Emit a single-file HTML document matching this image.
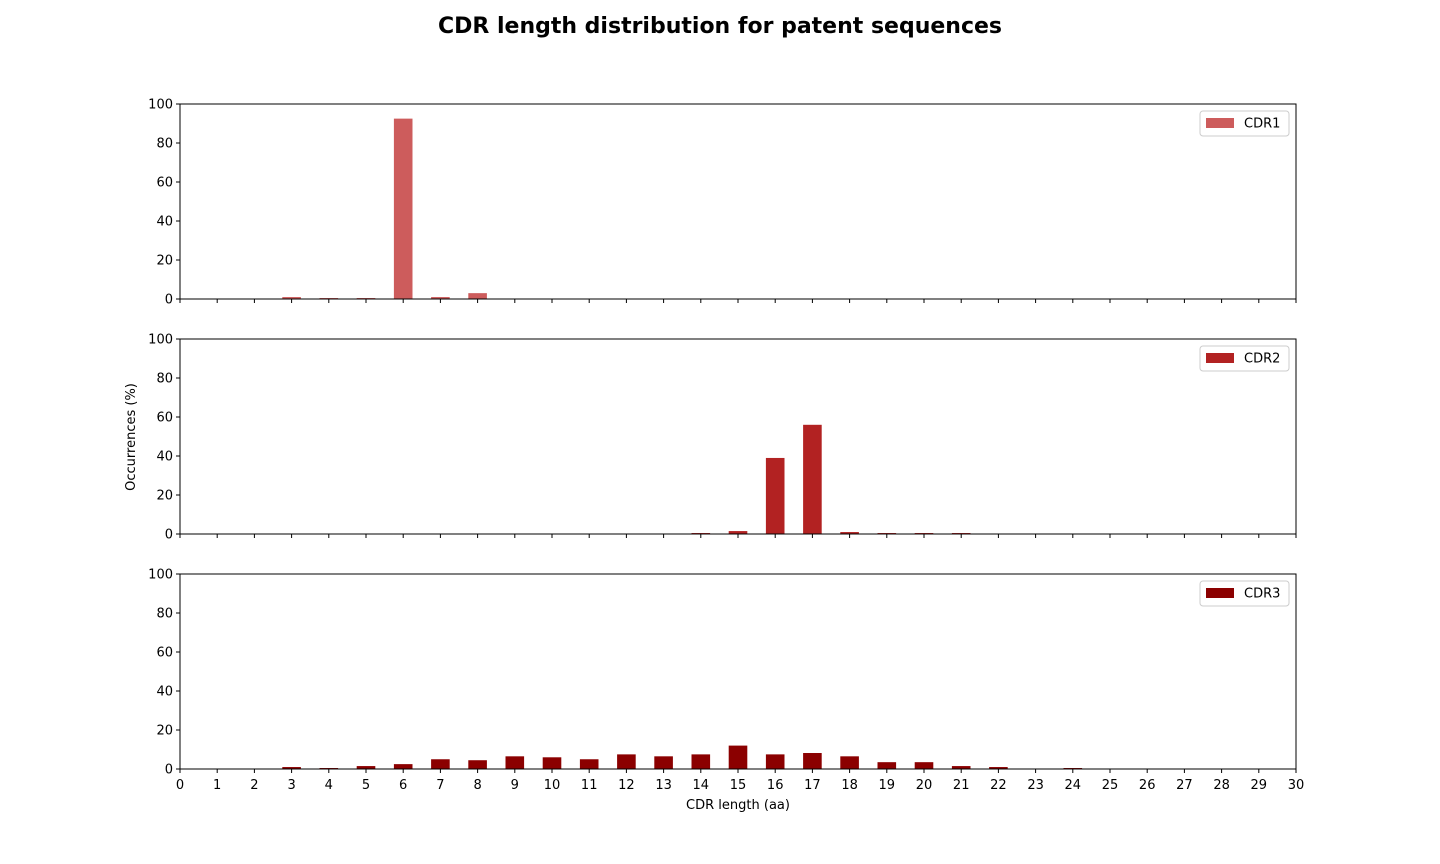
<!DOCTYPE html>
<html><head><meta charset="utf-8"><style>
html,body{margin:0;padding:0;background:#fff;overflow:hidden;font-family:"Liberation Sans","DejaVu Sans",sans-serif;}
svg{display:block;}
svg text{font-family:"DejaVu Sans","Liberation Sans",sans-serif;}
</style></head><body>
<svg id="chart" width="1440" height="864" xmlns="http://www.w3.org/2000/svg">
<text x="720" y="33" text-anchor="middle" font-size="22" font-weight="bold">CDR length distribution for patent sequences</text>
<text transform="translate(135,437) rotate(-90)" text-anchor="middle" font-size="13">Occurrences (%)</text>
<text x="738" y="809" text-anchor="middle" font-size="13">CDR length (aa)</text>
</svg>
<script>
const lengths = [0,1,2,3,4,5,6,7,8,9,10,11,12,13,14,15,16,17,18,19,20,21,22,23,24,25,26,27,28,29];
const cdr1 = [0,0,0,1,0.5,0.5,92.5,1,3,0,0,0,0,0,0,0,0,0,0,0,0,0,0,0,0,0,0,0,0,0];
const cdr2 = [0,0,0,0,0,0,0,0,0,0,0,0,0,0,0.5,1.5,39,56,1,0.5,0.5,0.5,0,0,0,0,0,0,0,0];
const cdr3 = [0,0,0,1,0.5,1.5,2.5,5,4.5,6.5,6,5,7.5,6.5,7.5,12,7.5,8.2,6.5,3.5,3.5,1.5,1,0,0.5,0,0,0,0,0];
const yTicks = [0,20,40,60,80,100];
const xTicks = [0,1,2,3,4,5,6,7,8,9,10,11,12,13,14,15,16,17,18,19,20,21,22,23,24,25,26,27,28,29,30];
const seriesNames = ["CDR1","CDR2","CDR3"];
const colors = ["#cd5c5c","#b22222","#8b0000"];

const svg = document.getElementById('chart');
const NS = "http://www.w3.org/2000/svg";
const X0 = 180, X1 = 1296;
const panelTops = [104, 339, 574];
const PH = 195;
const xs = v => X0 + (v/30)*(X1-X0);
function mk(tag, attrs){const e=document.createElementNS(NS,tag);for(const k in attrs)e.setAttribute(k,attrs[k]);svg.appendChild(e);return e;}
[cdr1,cdr2,cdr3].forEach((data,p)=>{
  const top = panelTops[p], bot = top+PH;
  const ys = v => bot - (v/100)*PH;
  data.forEach((v,i)=>{
    if(v<=0) return;
    const r = mk('rect',{x:xs(lengths[i]-0.25),y:ys(v),width:xs(0.5)-xs(0),height:bot-ys(v),fill:colors[p]});
    
    
  });
  const fr = mk('rect',{x:X0,y:top,width:X1-X0,height:PH,fill:'none',stroke:'#000','stroke-width':1});
  
  
  yTicks.forEach(t=>{
    mk('line',{x1:X0-4,x2:X0,y1:ys(t),y2:ys(t),stroke:'#000'});
    const tx = mk('text',{x:X0-7,y:ys(t)+4.5,'text-anchor':'end','font-size':13});
    tx.textContent = t;
    
    
  });
  xTicks.forEach(t=>{
    mk('line',{x1:xs(t),x2:xs(t),y1:bot,y2:bot+4,stroke:'#000'});
    if(p===2){
      const tx = mk('text',{x:xs(t),y:bot+20,'text-anchor':'middle','font-size':13});
      tx.textContent = t;
      
      
    }
  });
  const g = document.createElementNS(NS,'g');
  
  
  svg.appendChild(g);
  const lb = document.createElementNS(NS,'rect');
  [['x',1200],['y',top+7],['width',89],['height',25],['rx',3],['fill','#fff'],['stroke','#ccc']].forEach(a=>lb.setAttribute(a[0],a[1]));
  g.appendChild(lb);
  const sw = document.createElementNS(NS,'rect');
  [['x',1206],['y',top+14],['width',28],['height',10],['fill',colors[p]]].forEach(a=>sw.setAttribute(a[0],a[1]));
  g.appendChild(sw);
  const lt = document.createElementNS(NS,'text');
  [['x',1244],['y',top+23.5],['font-size',13]].forEach(a=>lt.setAttribute(a[0],a[1]));
  lt.textContent = seriesNames[p];
  g.appendChild(lt);
});
</script>
</body></html>
